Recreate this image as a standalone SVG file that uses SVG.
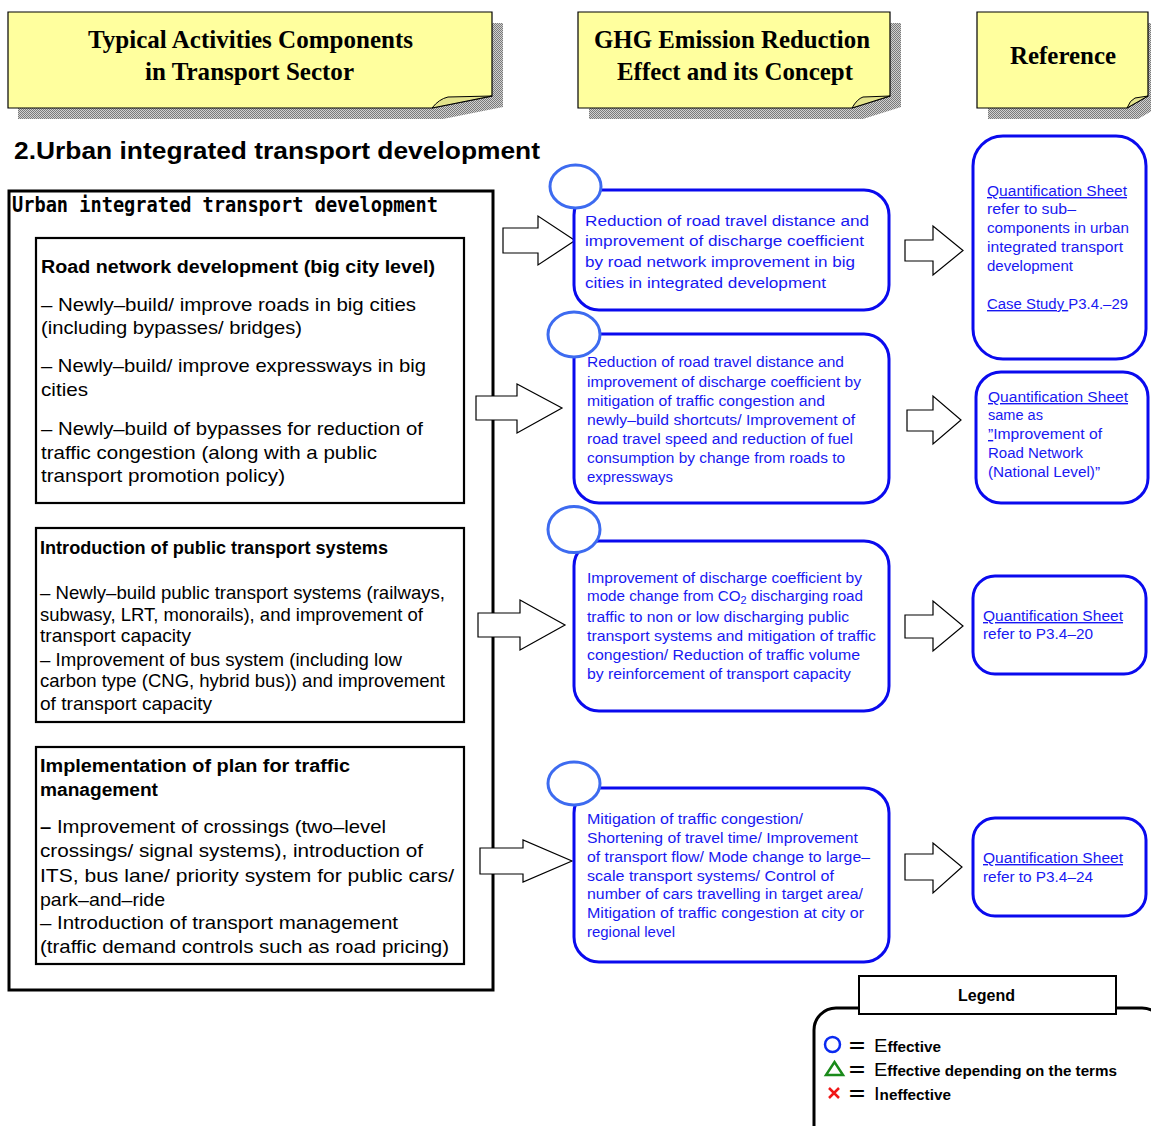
<svg xmlns="http://www.w3.org/2000/svg" width="1151" height="1126" viewBox="0 0 1151 1126">
  <defs>
    <pattern id="hatch" width="2" height="2" patternUnits="userSpaceOnUse">
      <rect width="2" height="2" fill="#d0d0d0"/>
      <rect width="1" height="1" fill="#7a7a7a"/>
      <rect x="1" y="1" width="1" height="1" fill="#7a7a7a"/>
    </pattern>
    <style>
      .note { fill: #FFFF9E; stroke: #000; stroke-width: 1.2; }
      .fold { fill: #E4E48C; stroke: #000; stroke-width: 1; }
      .shadow { fill: url(#hatch); }
      .hdr { font-family: "Liberation Serif", "Times New Roman", serif; font-weight: bold; font-size: 24.5px; text-anchor: middle; fill: #000; }
      .frame { fill: #fff; stroke: #000; stroke-width: 3; }
      .sub { fill: #fff; stroke: #000; stroke-width: 2.2; }
      .t { font-family: "Liberation Sans", Arial, sans-serif; font-size: 18.5px; fill: #000; }
      .tb { font-family: "Liberation Sans", Arial, sans-serif; font-size: 18px; font-weight: bold; fill: #000; }
      .blk { fill: #fff; stroke: #000; stroke-width: 1.2; }
      .eff { fill: #fff; stroke: #0A0AEE; stroke-width: 3; }
      .mark { fill: #fff; stroke: #3D6BF0; stroke-width: 3; }
      .b16 { font-family: "Liberation Sans", Arial, sans-serif; font-size: 15.5px; fill: #1818F2; }
      .b14 { font-family: "Liberation Sans", Arial, sans-serif; font-size: 14px; fill: #1818F2; }
      .ref { font-family: "Liberation Sans", Arial, sans-serif; font-size: 14px; fill: #1818F2; }
      .u { text-decoration: underline; }
      .lg { font-family: "Liberation Sans", Arial, sans-serif; font-weight: bold; fill: #000; }
      .eq { font-family: "Liberation Sans", Arial, sans-serif; font-size: 19px; font-weight: bold; fill: #000; }
    </style>
  </defs>

  <rect width="1151" height="1126" fill="#fff"/>

  <!-- column headers: sticky notes with curled corner -->
  <g id="hdr-activities">
    <path class="shadow" d="M18,23 H503 V107 L443,119 H18 Z"/>
    <path class="note" d="M8,12 H492 V96 L432,108 H8 Z"/>
    <path class="fold" d="M432,108 Q439,99 448,97 L492,96 Z"/>
    <text class="hdr" x="250.5" y="48" textLength="325" lengthAdjust="spacingAndGlyphs">Typical Activities Components</text>
    <text class="hdr" x="249.5" y="80" textLength="209" lengthAdjust="spacingAndGlyphs">in Transport Sector</text>
  </g>
  <g id="hdr-effect">
    <path class="shadow" d="M589,23 H901 V107 L863,119 H589 Z"/>
    <path class="note" d="M578,12 H890 V96 L852,108 H578 Z"/>
    <path class="fold" d="M852,108 Q857,99 863,97 L890,96 Z"/>
    <text class="hdr" x="732" y="48" textLength="276" lengthAdjust="spacingAndGlyphs">GHG Emission Reduction</text>
    <text class="hdr" x="735" y="80" textLength="236" lengthAdjust="spacingAndGlyphs">Effect and its Concept</text>
  </g>
  <g id="hdr-reference">
    <path class="shadow" d="M988,23 H1159 V107 L1138,119 H988 Z"/>
    <path class="note" d="M977,12 H1148 V96 L1127,108 H977 Z"/>
    <path class="fold" d="M1127,108 Q1130,100 1135,98 L1148,96 Z"/>
    <text class="hdr" x="1063" y="64" textLength="106" lengthAdjust="spacingAndGlyphs">Reference</text>
  </g>

  <text x="14" y="159" font-family="'Liberation Sans', Arial, sans-serif" font-weight="bold" font-size="23" textLength="526" lengthAdjust="spacingAndGlyphs">2.Urban integrated transport development</text>

  <!-- activity components -->
  <g id="activities">
    <rect class="frame" x="9" y="191" width="484" height="799"/>
    <text x="12" y="212" font-family="'DejaVu Sans Mono', 'Liberation Mono', monospace" font-weight="bold" font-size="22" textLength="426" lengthAdjust="spacingAndGlyphs">Urban integrated transport development</text>

    <g id="road-network">
      <rect class="sub" x="36" y="238" width="428" height="265"/>
      <text class="tb" x="41" y="273" textLength="394" lengthAdjust="spacingAndGlyphs">Road network development (big city level)</text>
      <text class="t" x="41" y="311" textLength="375" lengthAdjust="spacingAndGlyphs">– Newly–build/ improve roads in big cities</text>
      <text class="t" x="41" y="334" textLength="261" lengthAdjust="spacingAndGlyphs">(including bypasses/ bridges)</text>
      <text class="t" x="41" y="372" textLength="385" lengthAdjust="spacingAndGlyphs">– Newly–build/ improve expressways in big</text>
      <text class="t" x="41" y="396" textLength="47" lengthAdjust="spacingAndGlyphs">cities</text>
      <text class="t" x="41" y="435" textLength="382" lengthAdjust="spacingAndGlyphs">– Newly–build of bypasses for reduction of</text>
      <text class="t" x="41" y="459" textLength="336" lengthAdjust="spacingAndGlyphs">traffic congestion (along with a public</text>
      <text class="t" x="41" y="482" textLength="244" lengthAdjust="spacingAndGlyphs">transport promotion policy)</text>
    </g>

    <g id="public-transport">
      <rect class="sub" x="36" y="528" width="428" height="194"/>
      <text class="tb" x="40" y="554" font-size="17" textLength="348" lengthAdjust="spacingAndGlyphs">Introduction of public transport systems</text>
      <text class="t" x="40" y="599" font-size="17.5" textLength="405" lengthAdjust="spacingAndGlyphs">– Newly–build public transport systems (railways,</text>
      <text class="t" x="40" y="621" font-size="17.5" textLength="383" lengthAdjust="spacingAndGlyphs">subwasy, LRT, monorails), and improvement of</text>
      <text class="t" x="40" y="642" font-size="17.5" textLength="151" lengthAdjust="spacingAndGlyphs">transport capacity</text>
      <text class="t" x="40" y="666" font-size="17.5" textLength="362" lengthAdjust="spacingAndGlyphs">– Improvement of bus system (including low</text>
      <text class="t" x="40" y="687" font-size="17.5" textLength="405" lengthAdjust="spacingAndGlyphs">carbon type (CNG, hybrid bus)) and improvement</text>
      <text class="t" x="40" y="710" font-size="17.5" textLength="172" lengthAdjust="spacingAndGlyphs">of transport capacity</text>
    </g>

    <g id="traffic-management">
      <rect class="sub" x="36" y="747" width="428" height="217"/>
      <text class="tb" x="40" y="772" textLength="310" lengthAdjust="spacingAndGlyphs">Implementation of plan for traffic</text>
      <text class="tb" x="40" y="796" textLength="118" lengthAdjust="spacingAndGlyphs">management</text>
      <text class="t" x="40" y="833" textLength="346" lengthAdjust="spacingAndGlyphs"><tspan font-weight="bold">–</tspan> Improvement of crossings (two–level</text>
      <text class="t" x="40" y="857" textLength="383" lengthAdjust="spacingAndGlyphs">crossings/ signal systems), introduction of</text>
      <text class="t" x="40" y="882" textLength="414" lengthAdjust="spacingAndGlyphs">ITS, bus lane/ priority system for public cars/</text>
      <text class="t" x="40" y="906" textLength="125" lengthAdjust="spacingAndGlyphs">park–and–ride</text>
      <text class="t" x="40" y="929" textLength="358" lengthAdjust="spacingAndGlyphs">– Introduction of transport management</text>
      <text class="t" x="40" y="953" textLength="409" lengthAdjust="spacingAndGlyphs">(traffic demand controls such as road pricing)</text>
    </g>
  </g>

  <!-- block arrows -->
  <g id="connectors">
    <polygon class="blk" points="503,228 538,228 538,216 575,240.5 538,265 538,253 503,253"/>
    <polygon class="blk" points="476,396 517,396 517,384 562,408 517,433 517,420 476,420"/>
    <polygon class="blk" points="478,613 520,613 520,600 565,625 520,650 520,637 478,637"/>
    <polygon class="blk" points="480,848 523,848 523,840 572,861 523,882 523,874 480,874"/>

    <polygon class="blk" points="905,240 933,240 933,226 963,250.5 933,275 933,261 905,261"/>
    <polygon class="blk" points="907,410 933,410 933,396 961,420 933,444 933,431 907,431"/>
    <polygon class="blk" points="905,615 933,615 933,601 963,626 933,651 933,638 905,638"/>
    <polygon class="blk" points="905,854 933,854 933,843 962,867 933,893 933,880 905,880"/>
  </g>

  <!-- reduction effects -->
  <g id="effect-road">
    <rect class="eff" x="574" y="190" width="315" height="120" rx="25"/>
    <ellipse class="mark" cx="575.5" cy="186.5" rx="25.5" ry="21.5"/>
    <text class="b16" x="585" y="226" textLength="284" lengthAdjust="spacingAndGlyphs">Reduction of road travel distance and</text>
    <text class="b16" x="585" y="246" textLength="279" lengthAdjust="spacingAndGlyphs">improvement of discharge coefficient</text>
    <text class="b16" x="585" y="267" textLength="270" lengthAdjust="spacingAndGlyphs">by road network improvement in big</text>
    <text class="b16" x="585" y="288" textLength="241" lengthAdjust="spacingAndGlyphs">cities in integrated development</text>
  </g>

  <g id="effect-expressway">
    <rect class="eff" x="574" y="334" width="315" height="169" rx="25"/>
    <ellipse class="mark" cx="574" cy="334.5" rx="26" ry="22.5"/>
    <text class="b14" x="587" y="367" textLength="257" lengthAdjust="spacingAndGlyphs">Reduction of road travel distance and</text>
    <text class="b14" x="587" y="387" textLength="274" lengthAdjust="spacingAndGlyphs">improvement of discharge coefficient by</text>
    <text class="b14" x="587" y="406" textLength="238" lengthAdjust="spacingAndGlyphs">mitigation of traffic congestion and</text>
    <text class="b14" x="587" y="425" textLength="268" lengthAdjust="spacingAndGlyphs">newly–build shortcuts/ Improvement of</text>
    <text class="b14" x="587" y="444" textLength="266" lengthAdjust="spacingAndGlyphs">road travel speed and reduction of fuel</text>
    <text class="b14" x="587" y="463" textLength="258" lengthAdjust="spacingAndGlyphs">consumption by change from roads to</text>
    <text class="b14" x="587" y="482" textLength="86" lengthAdjust="spacingAndGlyphs">expressways</text>
  </g>

  <g id="effect-public">
    <rect class="eff" x="574" y="541" width="315" height="170" rx="25"/>
    <ellipse class="mark" cx="574" cy="529.5" rx="26" ry="23"/>
    <text class="b14" x="587" y="583" textLength="275" lengthAdjust="spacingAndGlyphs">Improvement of discharge coefficient by</text>
    <text class="b14" x="587" y="601" textLength="276" lengthAdjust="spacingAndGlyphs">mode change from CO<tspan font-size="10" dy="3">2</tspan><tspan dy="-3"> discharging road</tspan></text>
    <text class="b14" x="587" y="622" textLength="262" lengthAdjust="spacingAndGlyphs">traffic to non or low discharging public</text>
    <text class="b14" x="587" y="641" textLength="289" lengthAdjust="spacingAndGlyphs">transport systems and mitigation of traffic</text>
    <text class="b14" x="587" y="660" textLength="273" lengthAdjust="spacingAndGlyphs">congestion/ Reduction of traffic volume</text>
    <text class="b14" x="587" y="679" textLength="264" lengthAdjust="spacingAndGlyphs">by reinforcement of transport capacity</text>
  </g>

  <g id="effect-management">
    <rect class="eff" x="574" y="788" width="315" height="174" rx="25"/>
    <ellipse class="mark" cx="574" cy="783.5" rx="26" ry="21.5"/>
    <text class="b14" x="587" y="824" textLength="216" lengthAdjust="spacingAndGlyphs">Mitigation of traffic congestion/</text>
    <text class="b14" x="587" y="843" textLength="271" lengthAdjust="spacingAndGlyphs">Shortening of travel time/ Improvement</text>
    <text class="b14" x="587" y="862" textLength="283" lengthAdjust="spacingAndGlyphs">of transport flow/ Mode change to large–</text>
    <text class="b14" x="587" y="881" textLength="247" lengthAdjust="spacingAndGlyphs">scale transport systems/ Control of</text>
    <text class="b14" x="587" y="899" textLength="276" lengthAdjust="spacingAndGlyphs">number of cars travelling in target area/</text>
    <text class="b14" x="587" y="918" textLength="277" lengthAdjust="spacingAndGlyphs">Mitigation of traffic congestion at city or</text>
    <text class="b14" x="587" y="937" textLength="88" lengthAdjust="spacingAndGlyphs">regional level</text>
  </g>

  <!-- references -->
  <g id="ref-road">
    <rect class="eff" x="973" y="136" width="173" height="223" rx="30" stroke-width="3.5"/>
    <text class="ref u" x="987" y="196" textLength="140" lengthAdjust="spacingAndGlyphs">Quantification Sheet</text>
    <text class="ref" x="987" y="214" textLength="89" lengthAdjust="spacingAndGlyphs">refer to sub–</text>
    <text class="ref" x="987" y="233" textLength="142" lengthAdjust="spacingAndGlyphs">components in urban</text>
    <text class="ref" x="987" y="252" textLength="136" lengthAdjust="spacingAndGlyphs">integrated transport</text>
    <text class="ref" x="987" y="271" textLength="86" lengthAdjust="spacingAndGlyphs">development</text>
    <text class="ref" x="987" y="309" textLength="141" lengthAdjust="spacingAndGlyphs"><tspan class="u">Case Study </tspan>P3.4.–29</text>
  </g>

  <g id="ref-expressway">
    <rect class="eff" x="976" y="372" width="172" height="131" rx="25" stroke-width="3.5"/>
    <text class="ref u" x="988" y="402" textLength="140" lengthAdjust="spacingAndGlyphs">Quantification Sheet</text>
    <text class="ref" x="988" y="420" textLength="55" lengthAdjust="spacingAndGlyphs">same as</text>
    <text class="ref" x="988" y="439" textLength="114" lengthAdjust="spacingAndGlyphs"><tspan class="u">”</tspan>Improvement of</text>
    <text class="ref" x="988" y="458" textLength="95" lengthAdjust="spacingAndGlyphs">Road Network</text>
    <text class="ref" x="988" y="477" textLength="112" lengthAdjust="spacingAndGlyphs">(National Level)”</text>
  </g>

  <g id="ref-public">
    <rect class="eff" x="973" y="576" width="173" height="98" rx="22" stroke-width="3.5"/>
    <text class="ref u" x="983" y="621" textLength="140" lengthAdjust="spacingAndGlyphs">Quantification Sheet</text>
    <text class="ref" x="983" y="639" textLength="110" lengthAdjust="spacingAndGlyphs">refer to P3.4–20</text>
  </g>

  <g id="ref-management">
    <rect class="eff" x="973" y="818" width="173" height="98" rx="22" stroke-width="3.5"/>
    <text class="ref u" x="983" y="863" textLength="140" lengthAdjust="spacingAndGlyphs">Quantification Sheet</text>
    <text class="ref" x="983" y="882" textLength="110" lengthAdjust="spacingAndGlyphs">refer to P3.4–24</text>
  </g>

  <!-- legend -->
  <g id="legend">
    <rect x="814" y="1008" width="350" height="140" rx="22" fill="#fff" stroke="#000" stroke-width="3"/>
    <rect x="859" y="976" width="257" height="38" fill="#fff" stroke="#000" stroke-width="2"/>
    <text class="lg" x="958" y="1001" font-size="17" font-weight="normal" textLength="57" lengthAdjust="spacingAndGlyphs">Legend</text>

    <circle cx="832.5" cy="1044.5" r="7.5" fill="none" stroke="#0A2AF0" stroke-width="2.5"/>
    <text class="eq" x="849" y="1052" textLength="16" lengthAdjust="spacingAndGlyphs">=</text>
    <text class="lg" x="874" y="1052" font-size="14.5" textLength="67" lengthAdjust="spacingAndGlyphs"><tspan font-size="19" font-weight="normal">E</tspan>ffective</text>

    <polygon points="826,1075 843,1075 834.5,1062" fill="none" stroke="#1A8A1A" stroke-width="2.5"/>
    <text class="eq" x="849" y="1076" textLength="16" lengthAdjust="spacingAndGlyphs">=</text>
    <text class="lg" x="874" y="1076" font-size="14.5" textLength="243" lengthAdjust="spacingAndGlyphs"><tspan font-size="19" font-weight="normal">E</tspan>ffective depending on the terms</text>

    <path d="M829,1088 L839,1098 M839,1088 L829,1098" stroke="#F01818" stroke-width="2.5" fill="none"/>
    <text class="eq" x="849" y="1100" textLength="16" lengthAdjust="spacingAndGlyphs">=</text>
    <text class="lg" x="874" y="1100" font-size="14.5" textLength="77" lengthAdjust="spacingAndGlyphs"><tspan font-size="19" font-weight="normal">I</tspan>neffective</text>
  </g>
</svg>
